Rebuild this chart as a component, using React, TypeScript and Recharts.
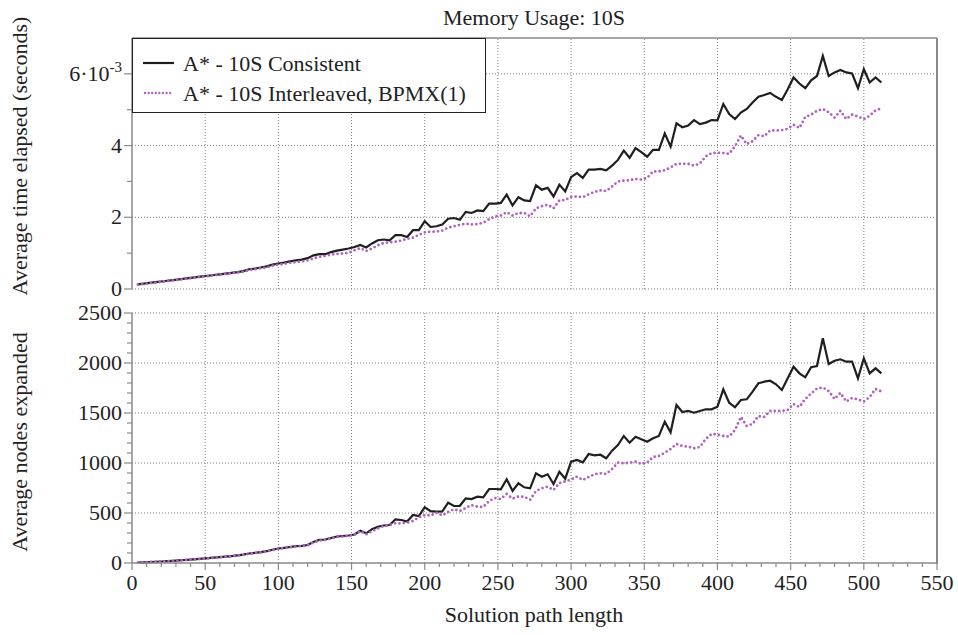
import React from 'react';
import { LineChart, Line, XAxis, YAxis, ReferenceLine } from 'recharts';

// solution path lengths (x values)
const pathLength = [
  4, 8, 12, 16, 20, 24, 28, 32, 36, 40, 44, 48, 52, 56, 60, 64,
  68, 72, 76, 80, 84, 88, 92, 96, 100, 104, 108, 112, 116, 120, 124, 128,
  132, 136, 140, 144, 148, 152, 156, 160, 164, 168, 172, 176, 180, 184, 188, 192,
  196, 200, 204, 208, 212, 216, 220, 224, 228, 232, 236, 240, 244, 248, 252, 256,
  260, 264, 268, 272, 276, 280, 284, 288, 292, 296, 300, 304, 308, 312, 316, 320,
  324, 328, 332, 336, 340, 344, 348, 352, 356, 360, 364, 368, 372, 376, 380, 384,
  388, 392, 396, 400, 404, 408, 412, 416, 420, 424, 428, 432, 436, 440, 444, 448,
  452, 456, 460, 464, 468, 472, 476, 480, 484, 488, 492, 496, 500, 504, 508, 512,
];

// average time elapsed, in units of 10^-3 seconds
const timeConsistent = [
  0.13, 0.15, 0.17, 0.19, 0.21, 0.23, 0.25, 0.27,
  0.29, 0.31, 0.33, 0.35, 0.37, 0.39, 0.41, 0.43,
  0.45, 0.47, 0.50, 0.55, 0.57, 0.60, 0.63, 0.68,
  0.71, 0.74, 0.77, 0.80, 0.82, 0.86, 0.94, 0.97,
  0.97, 1.03, 1.07, 1.10, 1.13, 1.17, 1.23, 1.16,
  1.27, 1.36, 1.38, 1.36, 1.50, 1.50, 1.45, 1.64,
  1.64, 1.89, 1.73, 1.75, 1.80, 1.96, 1.98, 1.93,
  2.15, 2.12, 2.19, 2.17, 2.38, 2.38, 2.40, 2.63,
  2.33, 2.56, 2.47, 2.45, 2.89, 2.77, 2.82, 2.58,
  2.91, 2.72, 3.12, 3.23, 3.10, 3.33, 3.33, 3.35,
  3.31, 3.44, 3.60, 3.86, 3.66, 3.93, 3.82, 3.69,
  3.88, 3.88, 4.34, 3.97, 4.62, 4.51, 4.56, 4.71,
  4.60, 4.64, 4.71, 4.70, 5.16, 4.88, 4.74, 4.92,
  5.02, 5.20, 5.36, 5.41, 5.47, 5.36, 5.27, 5.57,
  5.90, 5.73, 5.60, 5.82, 5.94, 6.50, 5.94, 6.04,
  6.11, 6.04, 6.01, 5.60, 6.13, 5.76, 5.90, 5.76,
];

const timeInterleaved = [
  0.12, 0.14, 0.16, 0.18, 0.20, 0.22, 0.24, 0.26,
  0.28, 0.30, 0.32, 0.34, 0.36, 0.38, 0.40, 0.42,
  0.44, 0.46, 0.48, 0.53, 0.55, 0.58, 0.60, 0.65,
  0.68, 0.70, 0.73, 0.75, 0.77, 0.80, 0.85, 0.90,
  0.92, 0.96, 0.98, 0.99, 1.01, 1.08, 1.14, 1.06,
  1.13, 1.22, 1.28, 1.30, 1.32, 1.35, 1.40, 1.43,
  1.51, 1.58, 1.60, 1.60, 1.63, 1.71, 1.75, 1.79,
  1.82, 1.80, 1.81, 1.85, 1.95, 2.02, 2.05, 2.14,
  2.05, 2.12, 2.12, 2.03, 2.25, 2.31, 2.35, 2.25,
  2.47, 2.48, 2.57, 2.58, 2.56, 2.64, 2.71, 2.75,
  2.73, 2.86, 3.00, 3.02, 3.03, 3.07, 3.05, 3.10,
  3.28, 3.28, 3.31, 3.39, 3.49, 3.49, 3.49, 3.44,
  3.50, 3.70, 3.79, 3.80, 3.79, 3.77, 3.98, 4.28,
  4.04, 4.12, 4.29, 4.26, 4.42, 4.42, 4.43, 4.47,
  4.58, 4.49, 4.80, 4.86, 4.97, 5.02, 4.93, 4.78,
  4.97, 4.74, 4.86, 4.81, 4.74, 4.83, 4.98, 5.04,
];

// average nodes expanded
const nodesConsistent = [
  3, 6, 9, 12, 15, 19, 22, 26,
  30, 34, 38, 43, 48, 53, 58, 63,
  69, 76, 83, 95, 102, 108, 118, 132,
  145, 152, 160, 168, 172, 180, 210, 232,
  235, 250, 265, 270, 275, 285, 322, 297,
  338, 362, 375, 380, 437, 430, 415, 480,
  470, 557, 518, 513, 515, 603, 570, 572,
  647, 640, 663, 657, 740, 740, 737, 838,
  720, 797, 757, 747, 897, 863, 887, 790,
  913, 843, 1013, 1030, 1007, 1090, 1077, 1083,
  1047, 1123, 1180, 1270, 1203, 1263, 1237, 1213,
  1247, 1270, 1413, 1307, 1580, 1510, 1520, 1503,
  1520, 1537, 1537, 1563, 1737, 1603, 1557, 1630,
  1637, 1713, 1797, 1813, 1823, 1787, 1730, 1847,
  1963, 1897, 1857, 1957, 1970, 2247, 1990, 2023,
  2037, 2013, 2013, 1847, 2047, 1897, 1947, 1897,
];

const nodesInterleaved = [
  3, 6, 9, 12, 15, 18, 21, 25,
  29, 33, 37, 42, 47, 52, 57, 62,
  68, 75, 82, 92, 100, 106, 115, 128,
  142, 150, 157, 165, 170, 177, 205, 225,
  230, 245, 260, 265, 272, 282, 320, 287,
  318, 345, 370, 380, 397, 397, 403, 420,
  455, 480, 475, 503, 475, 510, 537, 520,
  550, 578, 563, 560, 620, 650, 640, 690,
  643, 665, 663, 632, 720, 747, 763, 730,
  800, 815, 835, 863, 830, 860, 887, 897,
  890, 940, 1003, 997, 1003, 1013, 990, 1003,
  1060, 1070, 1103, 1140, 1190, 1170, 1163, 1147,
  1160, 1240, 1290, 1285, 1270, 1265, 1330, 1460,
  1370, 1390, 1470, 1460, 1520, 1520, 1520, 1530,
  1590, 1560, 1640, 1695, 1745, 1755, 1720, 1640,
  1700, 1615, 1650, 1635, 1615, 1660, 1740, 1715,
];

const xTicks = [0, 10, 20, 30, 40, 50, 60, 70, 80, 90, 100, 110, 120, 130, 140, 150, 160, 170, 180, 190,
  200, 210, 220, 230, 240, 250, 260, 270, 280, 290, 300, 310, 320, 330, 340, 350, 360, 370, 380, 390,
  400, 410, 420, 430, 440, 450, 460, 470, 480, 490, 500, 510, 520, 530, 540, 550];
const xGrid = [50, 100, 150, 200, 250, 300, 350, 400, 450, 500];
const timeTicks = [0, 1, 2, 3, 4, 5, 6];
const timeGrid = [0, 2, 4, 6];
const nodeTicks = [0, 100, 200, 300, 400, 500, 600, 700, 800, 900, 1000, 1100, 1200, 1300, 1400, 1500,
  1600, 1700, 1800, 1900, 2000, 2100, 2200, 2300, 2400, 2500];
const nodeGrid = [500, 1000, 1500, 2000, 2500];

const timeData = pathLength.map((x, i) => ({ x, consistent: timeConsistent[i], interleaved: timeInterleaved[i] }));
const nodesData = pathLength.map((x, i) => ({ x, consistent: nodesConsistent[i], interleaved: nodesInterleaved[i] }));

const FONT = 'Liberation Serif, DejaVu Serif, serif';
const AXIS = '#8a8a8a';
const GRID = '#7f7f7f';
const BLACK = '#1f1f1f';
const PURPLE = '#b062c1';
const TEXT = '#222';

const textStyle = { fontFamily: FONT, fontSize: 22, fill: TEXT } as const;

function XTick(props: any) {
  const { x, y, payload } = props;
  const major = payload.value % 50 === 0;
  return (
    <g>
      <line x1={x} x2={x} y1={y} y2={y + (major ? 7 : 4)} stroke={AXIS} strokeWidth={1.2} />
      {major && (
        <text x={x} y={y + 27} textAnchor="middle" style={textStyle}>
          {payload.value}
        </text>
      )}
    </g>
  );
}

function TimeTick(props: any) {
  const { x, y, payload } = props;
  const v = payload.value;
  const major = v % 2 === 0;
  return (
    <g>
      <line x1={x - (major ? 8 : 5)} x2={x} y1={y} y2={y} stroke={AXIS} strokeWidth={1.2} />
      {major && (
        <text x={x - 10} y={y + 7} textAnchor="end" style={textStyle}>
          {v === 6 ? (
            <>
              {'6·10'}
              <tspan dy={-9} style={{ fontSize: 15 }}>-3</tspan>
            </>
          ) : (
            v
          )}
        </text>
      )}
    </g>
  );
}

function NodeTick(props: any) {
  const { x, y, payload } = props;
  const v = payload.value;
  const major = v % 500 === 0;
  return (
    <g>
      <line x1={x - (major ? 8 : 5)} x2={x} y1={y} y2={y} stroke={AXIS} strokeWidth={1.2} />
      {major && (
        <text x={x - 10} y={y + 7} textAnchor="end" style={textStyle}>
          {v}
        </text>
      )}
    </g>
  );
}

export default function App() {
  return (
    <div style={{ position: 'absolute', left: 0, top: 0, width: 958, height: 635, background: '#fff', fontFamily: FONT }}>
      <div style={{ position: 'absolute', left: 0, top: 0 }}>
        <LineChart width={958} height={310} data={timeData} margin={{ top: 38, right: 21, bottom: 21, left: 0 }}>
          <XAxis dataKey="x" type="number" domain={[0, 550]} ticks={xTicks} hide />
          <YAxis
            type="number"
            domain={[0, 7]}
            ticks={timeTicks}
            interval={0}
            width={132}
            tickSize={0}
            tickMargin={0}
            tick={<TimeTick />}
            axisLine={{ stroke: AXIS, strokeWidth: 1.5 }}
          />
          {xGrid.map((v) => (
            <ReferenceLine key={`tx${v}`} x={v} stroke={GRID} strokeDasharray="1 2" />
          ))}
          {timeGrid.map((v) => (
            <ReferenceLine key={`ty${v}`} y={v} stroke={GRID} strokeDasharray="1 2" />
          ))}
          <ReferenceLine y={7} stroke={AXIS} strokeWidth={1.5} />
          <Line
            dataKey="consistent"
            stroke={BLACK}
            strokeWidth={2.2}
            dot={false}
            isAnimationActive={false}
          />
          <Line
            dataKey="interleaved"
            stroke={PURPLE}
            strokeWidth={2.8}
            strokeDasharray="0 4.4"
            strokeLinecap="round"
            dot={false}
            isAnimationActive={false}
          />
        </LineChart>
      </div>
      <div style={{ position: 'absolute', left: 0, top: 300 }}>
        <LineChart width={958} height={335} data={nodesData} margin={{ top: 13, right: 21, bottom: 32, left: 0 }}>
          <XAxis
            dataKey="x"
            type="number"
            domain={[0, 550]}
            ticks={xTicks}
            interval={0}
            height={40}
            tickSize={0}
            tickMargin={0}
            tick={<XTick />}
            axisLine={{ stroke: AXIS, strokeWidth: 1.5 }}
          />
          <YAxis
            type="number"
            domain={[0, 2500]}
            ticks={nodeTicks}
            interval={0}
            width={132}
            tickSize={0}
            tickMargin={0}
            tick={<NodeTick />}
            axisLine={{ stroke: AXIS, strokeWidth: 1.5 }}
          />
          {xGrid.map((v) => (
            <ReferenceLine key={`nx${v}`} x={v} stroke={GRID} strokeDasharray="1 2" />
          ))}
          {nodeGrid.map((v) => (
            <ReferenceLine key={`ny${v}`} y={v} stroke={GRID} strokeDasharray="1 2" />
          ))}
          <Line
            dataKey="consistent"
            stroke={BLACK}
            strokeWidth={2.2}
            dot={false}
            isAnimationActive={false}
          />
          <Line
            dataKey="interleaved"
            stroke={PURPLE}
            strokeWidth={2.8}
            strokeDasharray="0 4.4"
            strokeLinecap="round"
            dot={false}
            isAnimationActive={false}
          />
        </LineChart>
      </div>

      {/* right frame edge, shared by both panels */}
      <div style={{ position: 'absolute', left: 936, top: 38, width: 2, height: 526, background: AXIS }} />

      {/* legend */}
      <div
        style={{
          position: 'absolute',
          left: 132,
          top: 38,
          width: 354,
          height: 75,
          background: '#fff',
          border: `1px solid ${TEXT}`,
          boxSizing: 'border-box',
        }}
      >
        <svg width={354} height={75} style={{ position: 'absolute', left: 0, top: 0 }}>
          <line x1={10} x2={41} y1={24} y2={24} stroke={BLACK} strokeWidth={2.2} />
          <text x={50} y={32} style={textStyle}>A* - 10S Consistent</text>
          <line x1={12} x2={40} y1={54} y2={54} stroke={PURPLE} strokeWidth={2.4} strokeDasharray="0 3.6" strokeLinecap="round" />
          <text x={50} y={62} style={textStyle}>A* - 10S Interleaved, BPMX(1)</text>
        </svg>
      </div>

      {/* titles */}
      <svg width={958} height={635} style={{ position: 'absolute', left: 0, top: 0, pointerEvents: 'none' }}>
        <text x={534} y={25} textAnchor="middle" style={textStyle}>Memory Usage: 10S</text>
        <text x={534} y={622} textAnchor="middle" style={textStyle}>Solution path length</text>
        <text transform="translate(27,156) rotate(-90)" textAnchor="middle" style={textStyle}>
          Average time elapsed (seconds)
        </text>
        <text transform="translate(27,442) rotate(-90)" textAnchor="middle" style={textStyle}>
          Average nodes expanded
        </text>
      </svg>
    </div>
  );
}
